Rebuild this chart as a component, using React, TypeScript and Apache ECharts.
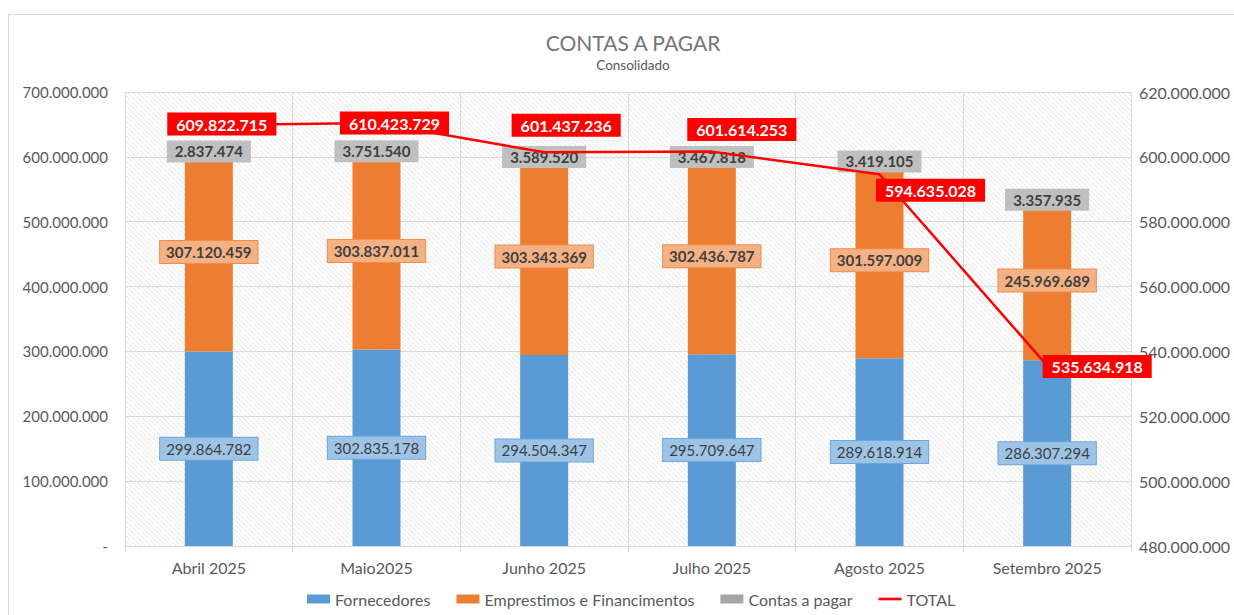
import React, { useEffect, useRef } from "react";
import * as echarts from "echarts";

const categories = ["Abril 2025", "Maio2025", "Junho 2025", "Julho 2025", "Agosto 2025", "Setembro 2025"];
const fornecedores = [299864782, 302835178, 294504347, 295709647, 289618914, 286307294];
const emprestimos = [307120459, 303837011, 303343369, 302436787, 301597009, 245969689];
const contasPagar = [2837474, 3751540, 3589520, 3467818, 3419105, 3357935];
const total = [609822715, 610423729, 601437236, 601614253, 594635028, 535634918];
const totalLabelOffsets = [[13, -1], [18, 0], [22, -27], [30, -22], [51, 16], [50, 1]];

const fmt = (v: number) => {
  if (v === 0) return "-";
  return Math.round(v).toString().replace(/\B(?=(\d{3})+(?!\d))/g, ".");
};

const FONT = "Lato, 'Liberation Sans', sans-serif";

function hatch(): string {
  const c = document.createElement("canvas");
  c.width = 5;
  c.height = 5;
  const ctx = c.getContext("2d")!;
  ctx.fillStyle = "#ffffff";
  ctx.fillRect(0, 0, 5, 5);
  ctx.strokeStyle = "#e4e4e4";
  ctx.lineWidth = 1;
  ctx.beginPath();
  ctx.moveTo(-1, -1);
  ctx.lineTo(6, 6);
  ctx.moveTo(-1, 4);
  ctx.lineTo(1, 6);
  ctx.moveTo(4, -1);
  ctx.lineTo(6, 1);
  ctx.stroke();
  return c.toDataURL();
}

export default function App() {
  const ref = useRef<HTMLDivElement>(null);
  useEffect(() => {
    if (!ref.current) return;
    const chart = echarts.init(ref.current, undefined, { renderer: "svg" });
    const pattern = { image: hatch(), repeat: "repeat" };
    const labelBase = {
      show: true,
      position: "inside",
      fontFamily: FONT,
      fontSize: 15,
      color: "#404040",
      padding: [4, 6, 3, 6],
      formatter: (p: any) => fmt(p.value),
    };
    chart.setOption({
      animation: false,
      backgroundColor: "#ffffff",
      title: {
        text: "CONTAS A PAGAR",
        subtext: "Consolidado",
        left: 628,
        textAlign: "center",
        top: 27,
        itemGap: 5,
        textStyle: { fontFamily: FONT, fontSize: 21, fontWeight: "normal", color: "#767676" },
        subtextStyle: { fontFamily: FONT, fontSize: 13.5, color: "#595959" },
      },
      graphic: [
        {
          type: "rect",
          silent: true,
          z: -10,
          shape: { x: 8.5, y: 14.5, width: 1300, height: 700 },
          style: { fill: "none", stroke: "#d9d9d9", lineWidth: 1 },
        },
      ],
      legend: {
        bottom: 3,
        left: 302,
        itemWidth: 23,
        itemHeight: 9,
        itemGap: 26,
        textStyle: { fontFamily: FONT, fontSize: 16, color: "#595959" },
        data: [
          { name: "Fornecedores", icon: "rect" },
          { name: "Emprestimos e Financimentos", icon: "rect" },
          { name: "Contas a pagar", icon: "rect" },
          { name: "TOTAL", icon: "path://M0,4 L22,4 L22,6.5 L0,6.5 Z" },
        ],
      },
      grid: {
        left: 125,
        right: 103,
        top: 92,
        bottom: 69,
        show: true,
        backgroundColor: pattern,
        borderWidth: 0,
      },
      xAxis: {
        type: "category",
        data: categories,
        axisLine: { lineStyle: { color: "#d9d9d9" } },
        axisTick: { show: true, length: 6, lineStyle: { color: "#d9d9d9" } },
        splitLine: { show: true, lineStyle: { color: "#d9d9d9" } },
        axisLabel: { fontFamily: FONT, fontSize: 16, color: "#595959", margin: 13 },
      },
      yAxis: [
        {
          type: "value",
          min: 0,
          max: 700000000,
          interval: 100000000,
          axisLine: { show: false },
          axisTick: { show: false },
          splitLine: { lineStyle: { color: "#d9d9d9" } },
          axisLabel: { fontFamily: FONT, fontSize: 15, color: "#595959", margin: 17, formatter: fmt },
        },
        {
          type: "value",
          min: 480000000,
          max: 620000000,
          interval: 20000000,
          axisLine: { show: false },
          axisTick: { show: false },
          splitLine: { show: false },
          axisLabel: { fontFamily: FONT, fontSize: 16, color: "#595959", margin: 8, formatter: fmt },
        },
      ],
      series: [
        {
          name: "Fornecedores",
          type: "bar",
          stack: "a",
          barWidth: 48,
          data: fornecedores,
          itemStyle: { color: "#5B9BD5" },
          label: {
            ...labelBase,
            backgroundColor: "#9DC3E6",
            borderColor: "#6FA6DB",
            borderWidth: 1,
          },
        },
        {
          name: "Emprestimos e Financimentos",
          type: "bar",
          stack: "a",
          data: emprestimos,
          itemStyle: { color: "#ED7D31" },
          label: {
            ...labelBase,
            fontWeight: "bold",
            backgroundColor: "#F4B183",
            borderColor: "#F08C4E",
            borderWidth: 1,
          },
        },
        {
          name: "Contas a pagar",
          type: "bar",
          stack: "a",
          data: contasPagar,
          itemStyle: { color: "#A5A5A5" },
          label: {
            ...labelBase,
            fontWeight: "bold",
            padding: [4, 8, 3, 8],
            backgroundColor: "#BFBFBF",
          },
        },
        {
          name: "TOTAL",
          type: "line",
          yAxisIndex: 1,
          z: 5,
          symbol: "circle",
          symbolSize: 1,
          itemStyle: { color: "#FF0000" },
          lineStyle: { color: "#FF0000", width: 2.5 },
          data: total.map((v, i) => ({
            value: v,
            label: { offset: totalLabelOffsets[i] },
          })),
          label: {
            show: true,
            position: "inside",
            fontFamily: FONT,
            fontSize: 16,
            fontWeight: "bold",
            color: "#ffffff",
            backgroundColor: "#FF0000",
            padding: [4, 9, 3, 9],
            formatter: (p: any) => fmt(p.value),
          },
        },
      ],
    });
    return () => chart.dispose();
  }, []);
  return (
    <div
      ref={ref}
      style={{ position: "absolute", left: 0, top: 0, width: 1234, height: 615 }}
    />
  );
}
